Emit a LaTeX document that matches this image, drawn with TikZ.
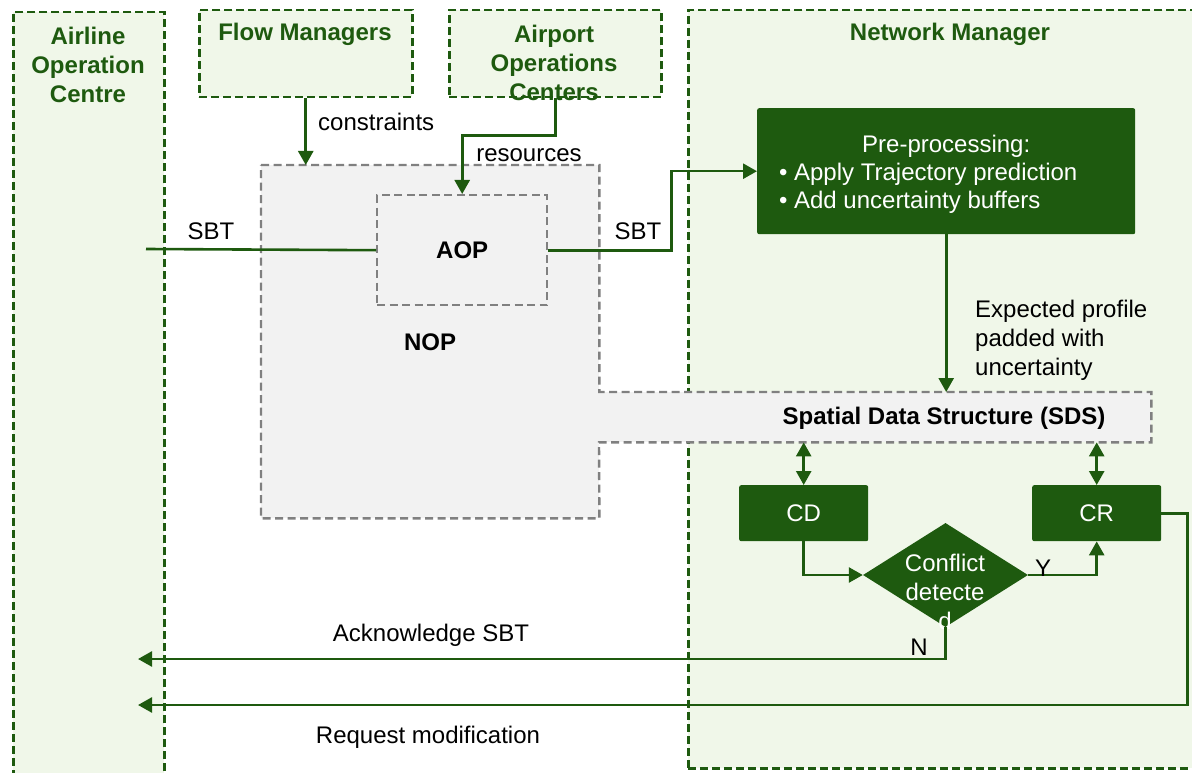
\documentclass[tikz,border=0pt]{standalone}
\usepackage{fontspec}
\setmainfont{Liberation Sans}
\usetikzlibrary{arrows.meta,shapes.geometric,calc}
\definecolor{dkgreen}{HTML}{1E5A0F}
\definecolor{ltgreen}{HTML}{F0F7E9}
\definecolor{nopfill}{HTML}{F2F2F2}
\definecolor{nopline}{HTML}{808080}
\tikzset{
  every node/.style={font=\fontsize{24}{29}\selectfont},
  zone/.style={draw=dkgreen, fill=ltgreen, line width=2.5pt, dash pattern=on 8pt off 4pt,
    anchor=north west, inner sep=0pt},
  ztitle/.style={font=\fontsize{24}{29}\selectfont\bfseries, text=dkgreen, align=center},
  boldtxt/.style={font=\fontsize{24}{29}\selectfont\bfseries},
  graybox/.style={draw=nopline, line width=2.4pt, dash pattern=on 8pt off 4.5pt},
  proc/.style={fill=dkgreen, rounded corners=2pt, text=white, anchor=north west, inner sep=0pt},
  tip/.tip={Triangle[length=14pt,width=15pt]},
  link/.style={draw=dkgreen, line width=2.6pt},
  flow/.style={link, -tip},
  both/.style={link, tip-tip},
  lbl/.style={inner sep=0pt, align=left},
}
\begin{document}
\begin{tikzpicture}[x=1pt,y=-1pt]
\useasboundingbox (0,0) rectangle (1192,773);
\clip (0,0) rectangle (1192,773);

% organisation zones
\node[zone, minimum width=151pt, minimum height=800pt] (aoc) at (12,11) {};
\node[zone, minimum width=213pt, minimum height=87pt] (fm) at (198,9) {};
\node[zone, minimum width=212pt, minimum height=87pt] (apc) at (448,9) {};
\node[zone, minimum width=530pt, minimum height=758pt] (nm) at (687,9) {};

% NOP with the spatial data structure attached
\node[inner sep=0pt, minimum width=338pt, minimum height=353pt, anchor=north west] (nop) at (261,165) {};
\node[inner sep=0pt, minimum width=552pt, minimum height=50pt, anchor=north west] (sds) at (599,392) {};
\fill[nopfill] (nop.north west) rectangle (nop.south east);
\fill[nopfill] (sds.north west) rectangle (sds.south east);
\draw[graybox] (nop.north west) -- (nop.north east) -- (nop.east |- sds.north)
  -- (sds.north east) -- (sds.south east) -- (sds.south west)
  -- (nop.south east) -- (nop.south west) -- cycle;
\node[boldtxt] (noptitle) at (430,342) {NOP};
\node[boldtxt] (sdstitle) at (944,418) {Spatial Data Structure (SDS)};

% zone titles
\node[ztitle] (aoctitle) at (88,65) {Airline\\Operation\\Centre};
\node[ztitle] (fmtitle) at (305,34) {Flow Managers};
\node[ztitle] (apctitle) at (554,63) {Airport\\Operations\\Centers};
\node[ztitle] (nmtitle) at (950,34) {Network Manager};

% AOP
\node[graybox, fill=nopfill, boldtxt, minimum width=170pt, minimum height=110pt,
  anchor=north west, inner sep=0pt] (aop) at (376,194) {AOP};

% processing steps
\node[proc, minimum width=378pt, minimum height=126pt, font=\fontsize{24}{28}\selectfont] (pre) at (757,108)
  {\raisebox{-4pt}[\height][\depth]{\begin{tabular}{@{}l@{}}
   \multicolumn{1}{@{}c@{}}{Pre-processing:}\\
   • Apply Trajectory prediction\rule{36pt}{0pt}\\
   • Add uncertainty buffers
   \end{tabular}}};
\node[proc, minimum width=129pt, minimum height=56pt] (cd) at (739,485) {CD};
\node[proc, minimum width=129pt, minimum height=56pt] (cr) at (1032,485) {CR};
\node[diamond, fill=dkgreen, minimum width=165pt, minimum height=104pt, inner sep=0pt] (dec) at (945.5,575) {};
\node[text=white, align=center] (dectext) at (945,592) {Conflict\\detecte\\d};

% connectors
\coordinate (sbtin) at (146,249);
\coordinate (ack) at (138,659);
\coordinate (req) at (138,705);
\draw[flow] (fm.south) -- (fm.south |- nop.north);
\draw[flow] (apc.south) -- ++(0,37) -| (aop.north);
\draw[link] (sbtin) -- (aop.west);
\draw[flow] (aop.east) -- ++(123,0) |- (pre.west);
\draw[flow] (pre.south) -- (pre.south |- sds.north);
\draw[both] (cd.north |- sds.south) -- (cd.north);
\draw[both] (cr.north |- sds.south) -- (cr.north);
\draw[flow] (cd.south) |- (dec.west);
\draw[flow] (dec.east) -| (cr.south);
\draw[flow] (dec.south) |- (ack);
\draw[flow] (cr.east) -- ++(26,0) |- (req);

% connector labels
\node[lbl, anchor=west] (constr) at (318,122) {constraints};
\node[lbl] (res) at (529,155) {resources};
\node[lbl] (sbtl) at (211,231) {SBT};
\node[lbl] (sbtr) at (638,231) {SBT};
\node[lbl, anchor=west] (exp) at (975,340) {Expected profile\\padded with\\uncertainty};
\node[lbl] (ylab) at (1043,568) {Y};
\node[lbl] (nlab) at (919,647) {N};
\node[lbl] (acklab) at (431,635) {Acknowledge SBT};
\node[lbl] (reqlab) at (428,737) {Request modification};
\end{tikzpicture}
\end{document}
